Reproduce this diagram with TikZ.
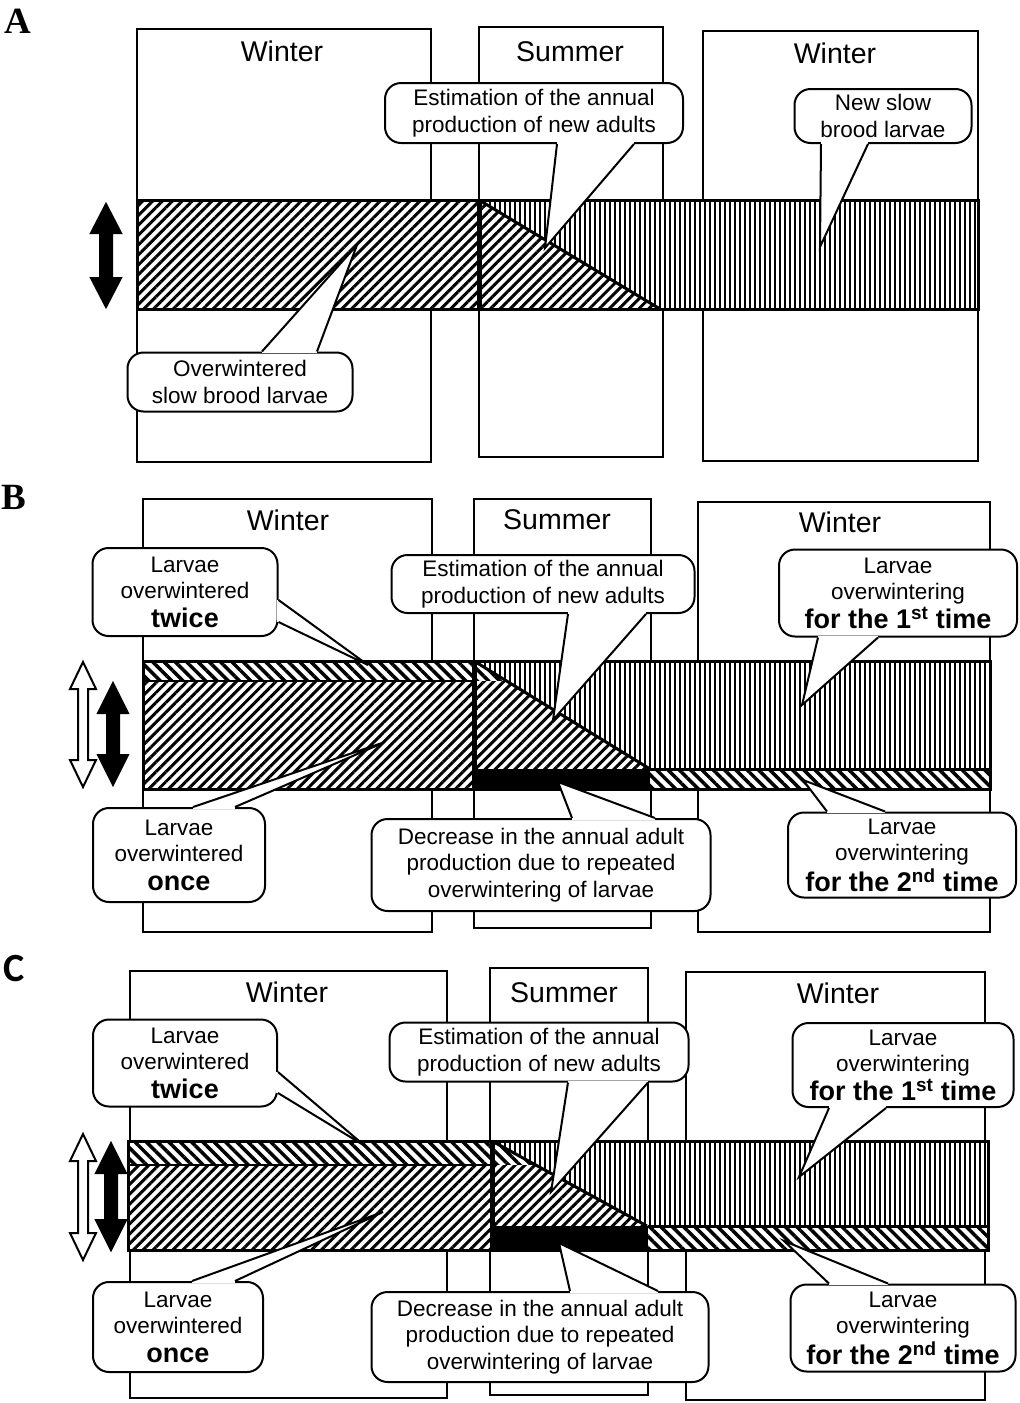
\documentclass[tikz,border=0pt]{standalone}
\usepackage{fontspec}
\setmainfont{Liberation Sans}
\newfontfamily\panelserif{Liberation Serif}
\newfontfamily\panelsans{Carlito}
\usetikzlibrary{patterns.meta}

\newcommand{\bubbletail}[3]{%
  \fill[white] (#1) -- (#2) -- (#3) -- cycle;
  \draw[white, line width=3.5pt] (#1) -- (#3);
  \draw[line width=2pt, line join=miter] (#1) -- (#2) -- (#3);}

\newcommand{\dblarrow}[7]{%
  \draw[line width=2pt, line join=miter, #1] (#2,#3) -- ({#2+#5},{#3+#6}) -- ({#2+#7},{#3+#6})
    -- ({#2+#7},{#4-#6}) -- ({#2+#5},{#4-#6}) -- (#2,#4) -- ({#2-#5},{#4-#6})
    -- ({#2-#7},{#4-#6}) -- ({#2-#7},{#3+#6}) -- ({#2-#5},{#3+#6}) -- cycle;}

\begin{document}
\begin{tikzpicture}[x=1pt, y=-1pt,
    season/.style={draw=black, line width=1.8pt},
    seasonname/.style={font=\fontsize{28.5}{30}\selectfont},
    bubble/.style={draw=black, fill=white, line width=2pt, rounded corners=16pt,
        align=center, inner sep=0pt, font=\fontsize{22.5}{26.5}\selectfont},
    hatchfwd/.style={fill=white, postaction={pattern={Lines[angle=45, distance=7pt, line width=3pt]}}},
    hatchbwd/.style={fill=white, postaction={pattern={Lines[angle=-45, distance=8pt, line width=3.5pt]}}},
    hatchvert/.style={fill=white, postaction={pattern={Lines[angle=90, distance=5pt, line width=2.9pt]}}},
    bandedge/.style={line width=3pt},
    splitedge/.style={line width=5pt},
    stripedge/.style={line width=1.2pt},
    panelmark/.style={font={\fontsize{37}{38}\panelserif\bfseries}}
]
    \useasboundingbox (0,0) rectangle (1020,1403);

    % A
    \draw[season] (137,29) rectangle (431,462);
    \draw[season] (479,27) rectangle (663,457);
    \draw[season] (703,31) rectangle (978,461);
    \node[seasonname] (winA1) at (282,51) {Winter};
    \node[seasonname] (sumA) at (570,52) {Summer};
    \node[seasonname] (winA2) at (835,53) {Winter};

    \path[hatchfwd] (137,200) rectangle (479,309);
    \path[hatchvert] (479,200) rectangle (978,309);
    \path[hatchfwd] (479,200) -- (660,309) -- (479,309) -- cycle;
    \draw[splitedge] (479,200) -- (479,309);
    \draw[bandedge] (479,200) -- (660,309);
    \draw[bandedge] (137,200) rectangle (978,309);

    \node[bubble, minimum width=298pt, minimum height=60pt] (estA) at (534,113)
        {Estimation of the annual\\production of new adults};
    \coordinate (estAtip) at (545,248);
    \bubbletail{estA.south -| 557,0}{estAtip}{estA.south -| 634,0}
    \node[bubble, minimum width=177pt, minimum height=54pt] (newA) at (883,116)
        {New slow\\brood larvae};
    \coordinate (newAtip) at (820,247);
    \bubbletail{newA.south -| 821,0}{newAtip}{newA.south -| 868,0}
    \node[bubble, minimum width=225pt, minimum height=59pt] (oldA) at (240,382)
        {Overwintered\\slow brood larvae};
    \coordinate (oldAtip) at (357,245);
    \bubbletail{oldA.north -| 262,0}{oldAtip}{oldA.north -| 317,0}

    \dblarrow{fill=black}{106}{204}{307}{15}{29}{6}
    \node[panelmark] (labA) at (18,21) {A};

    % B
    \draw[season] (143,499) rectangle (432,932);
    \draw[season] (474,499) rectangle (651,928);
    \draw[season] (698,502) rectangle (990,932);
    \node[seasonname] (winB1) at (288,520) {Winter};
    \node[seasonname] (sumB) at (557,520) {Summer};
    \node[seasonname] (winB2) at (840,522) {Winter};

    \path[hatchbwd] (143,661) rectangle (474,681);
    \path[hatchfwd] (143,681) rectangle (474,789);
    \path[hatchvert] (474,661) rectangle (990,769);
    \path[hatchbwd] (474,661) -- (506,681) -- (474,681) -- cycle;
    \path[hatchfwd] (474,681) -- (506,681) -- (650,769) -- (474,769) -- cycle;
    \fill (474,769) rectangle (650,789);
    \path[hatchbwd] (650,769) rectangle (990,789);
    \draw[stripedge] (143,681) -- (474,681);
    \draw[bandedge] (650,769) -- (990,769);
    \draw[splitedge] (474,661) -- (474,789);
    \draw[bandedge] (474,661) -- (650,769);
    \draw[bandedge] (143,661) rectangle (990,789);

    \node[bubble, minimum width=185pt, minimum height=88pt] (twiceB) at (185,592)
        {Larvae\\overwintered\\[2pt]{\fontsize{27}{30}\selectfont\bfseries twice}};
    \coordinate (twiceBtip) at (368,665);
    \bubbletail{twiceB.east |- 0,600}{twiceBtip}{twiceB.east |- 0,622}
    \node[bubble, minimum width=172pt, minimum height=94pt] (onceB) at (179,855)
        {Larvae\\overwintered\\[2pt]{\fontsize{27}{30}\selectfont\bfseries once}};
    \coordinate (onceBtip) at (385,742);
    \bubbletail{onceB.north -| 193,0}{onceBtip}{onceB.north -| 235,0}
    \node[bubble, minimum width=303pt, minimum height=58pt] (estB) at (543,584)
        {Estimation of the annual\\production of new adults};
    \coordinate (estBtip) at (553,720);
    \bubbletail{estB.south -| 568,0}{estBtip}{estB.south -| 646,0}
    \node[bubble, minimum width=339pt, minimum height=92pt] (decB) at (541,865)
        {Decrease in the annual adult\\production due to repeated\\overwintering of larvae};
    \coordinate (decBtip) at (558,782);
    \bubbletail{decB.north -| 572,0}{decBtip}{decB.north -| 655,0}
    \node[bubble, minimum width=238pt, minimum height=87pt] (firstB) at (898,593)
        {Larvae\\overwintering\\[2pt]{\fontsize{27}{30}\selectfont\bfseries for the 1\textsuperscript{st} time}};
    \coordinate (firstBtip) at (802,705);
    \bubbletail{firstB.south -| 818,0}{firstBtip}{firstB.south -| 878,0}
    \node[bubble, minimum width=228pt, minimum height=85pt] (secondB) at (902,855)
        {Larvae\\overwintering\\[2pt]{\fontsize{27}{30}\selectfont\bfseries for the 2\textsuperscript{nd} time}};
    \coordinate (secondBtip) at (803,780);
    \bubbletail{secondB.north -| 827,0}{secondBtip}{secondB.north -| 885,0}

    \dblarrow{fill=white}{83}{662}{787}{13}{27}{5}
    \dblarrow{fill=black}{113}{683}{785}{15}{30}{6}
    \node[panelmark] (labB) at (14,497) {B};

    % C
    \draw[season] (130,971) rectangle (447,1398);
    \draw[season] (490,968) rectangle (648,1395);
    \draw[season] (686,972) rectangle (985,1400);
    \node[seasonname] (winC1) at (287,992) {Winter};
    \node[seasonname] (sumC) at (564,993) {Summer};
    \node[seasonname] (winC2) at (838,993) {Winter};

    \path[hatchbwd] (128,1141) rectangle (492,1165);
    \path[hatchfwd] (128,1165) rectangle (492,1250);
    \path[hatchvert] (492,1141) rectangle (988,1226);
    \path[hatchbwd] (492,1141) -- (536,1165) -- (492,1165) -- cycle;
    \path[hatchfwd] (492,1165) -- (536,1165) -- (647,1226) -- (492,1226) -- cycle;
    \fill (492,1226) rectangle (648,1250);
    \path[hatchbwd] (648,1226) rectangle (988,1250);
    \draw[stripedge] (128,1165) -- (492,1165);
    \draw[bandedge] (648,1226) -- (988,1226);
    \draw[splitedge] (492,1141) -- (492,1250);
    \draw[bandedge] (492,1141) -- (647,1226);
    \draw[bandedge] (128,1141) rectangle (988,1250);

    \node[bubble, minimum width=184pt, minimum height=87pt] (twiceC) at (185,1063)
        {Larvae\\overwintered\\[2pt]{\fontsize{27}{30}\selectfont\bfseries twice}};
    \coordinate (twiceCtip) at (365,1146);
    \bubbletail{twiceC.east |- 0,1072}{twiceCtip}{twiceC.east |- 0,1093}
    \node[bubble, minimum width=170pt, minimum height=90pt] (onceC) at (178,1327)
        {Larvae\\overwintered\\[2pt]{\fontsize{27}{30}\selectfont\bfseries once}};
    \coordinate (onceCtip) at (383,1212);
    \bubbletail{onceC.north -| 192,0}{onceCtip}{onceC.north -| 235,0}
    \node[bubble, minimum width=299pt, minimum height=59pt] (estC) at (539,1052)
        {Estimation of the annual\\production of new adults};
    \coordinate (estCtip) at (551,1192);
    \bubbletail{estC.south -| 568,0}{estCtip}{estC.south -| 648,0}
    \node[bubble, minimum width=337pt, minimum height=90pt] (decC) at (540,1337)
        {Decrease in the annual adult\\production due to repeated\\overwintering of larvae};
    \coordinate (decCtip) at (559,1243);
    \bubbletail{decC.north -| 570,0}{decCtip}{decC.north -| 658,0}
    \node[bubble, minimum width=221pt, minimum height=84pt] (firstC) at (903,1065)
        {Larvae\\overwintering\\[2pt]{\fontsize{27}{30}\selectfont\bfseries for the 1\textsuperscript{st} time}};
    \coordinate (firstCtip) at (799,1177);
    \bubbletail{firstC.south -| 829,0}{firstCtip}{firstC.south -| 886,0}
    \node[bubble, minimum width=225pt, minimum height=87pt] (secondC) at (903,1328)
        {Larvae\\overwintering\\[2pt]{\fontsize{27}{30}\selectfont\bfseries for the 2\textsuperscript{nd} time}};
    \coordinate (secondCtip) at (784,1241);
    \bubbletail{secondC.north -| 829,0}{secondCtip}{secondC.north -| 888,0}

    \dblarrow{fill=white}{83}{1134}{1260}{13}{27}{5}
    \dblarrow{fill=black}{111}{1143}{1250}{15}{30}{6}
    \node[panelmark, font={\fontsize{40}{42}\panelsans\bfseries}] (labC) at (14,969) {C};
\end{tikzpicture}
\end{document}
